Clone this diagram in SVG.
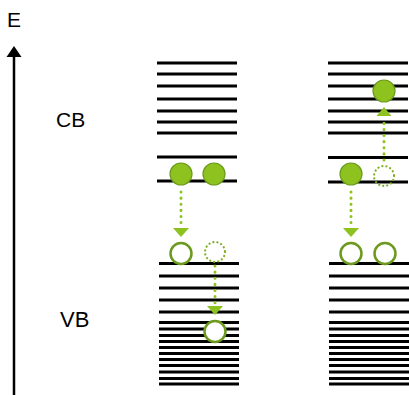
<svg xmlns="http://www.w3.org/2000/svg" width="409" height="395" viewBox="0 0 409 395">
  <defs>
    <style>
      .lvl { stroke: #000; stroke-width: 3; }
      .lbl { font-family: "Liberation Sans", Arial, sans-serif; fill: #000; }
      .e-full { fill: #8dc21f; stroke: #6c9a1e; stroke-width: 1.2; }
      .hole { fill: #fff; stroke: #6c9a1e; stroke-width: 2.5; }
      .hole-dot { fill: none; stroke: #7fae22; stroke-width: 2.2; stroke-dasharray: 0.1 4; stroke-linecap: round; }
      .jump { stroke: #8dc21f; stroke-width: 3; stroke-dasharray: 0.1 6; stroke-linecap: round; fill: none; }
      .tip { fill: #8dc21f; }
    </style>
  </defs>
  <rect width="409" height="395" fill="#fff"/>

  <!-- energy axis -->
  <g id="axis">
    <line x1="14" y1="395" x2="14" y2="55" stroke="#000" stroke-width="2.5"/>
    <polygon points="14,46 6.5,57 21.5,57" fill="#000"/>
    <text class="lbl" x="7" y="27" font-size="21">E</text>
  </g>
  <g id="label-cb"><text class="lbl" x="56" y="127" font-size="21">CB</text></g>
  <g id="label-vb"><text class="lbl" x="60" y="327" font-size="22">VB</text></g>

  <!-- left panel: band levels -->
  <g id="bands-left">
    <g class="lvl">
      <line x1="157" y1="63" x2="237" y2="63"/>
      <line x1="157" y1="74" x2="237" y2="74"/>
      <line x1="157" y1="86" x2="237" y2="86"/>
      <line x1="157" y1="99" x2="237" y2="99"/>
      <line x1="157" y1="111" x2="237" y2="111"/>
      <line x1="157" y1="122" x2="237" y2="122"/>
      <line x1="157" y1="133" x2="237" y2="133"/>
      <line x1="157" y1="157" x2="237" y2="157"/>
      <line x1="157" y1="181" x2="237" y2="181"/>
      <line x1="159" y1="263.5" x2="239" y2="263.5"/>
      <line x1="159" y1="276" x2="239" y2="276"/>
      <line x1="159" y1="288" x2="239" y2="288"/>
      <line x1="159" y1="300" x2="239" y2="300"/>
      <line x1="159" y1="312" x2="239" y2="312"/>
      <line x1="159" y1="322.5" x2="239" y2="322.5"/>
      <line x1="159" y1="329" x2="239" y2="329"/>
      <line x1="159" y1="335.5" x2="239" y2="335.5"/>
      <line x1="159" y1="341.5" x2="239" y2="341.5"/>
      <line x1="159" y1="347.5" x2="239" y2="347.5"/>
      <line x1="159" y1="353.5" x2="239" y2="353.5"/>
      <line x1="159" y1="359.5" x2="239" y2="359.5"/>
      <line x1="159" y1="365.5" x2="239" y2="365.5"/>
      <line x1="159" y1="372" x2="239" y2="372"/>
      <line x1="159" y1="378.5" x2="239" y2="378.5"/>
      <line x1="159" y1="384" x2="239" y2="384"/>
    </g>
  </g>

  <!-- right panel: band levels -->
  <g id="bands-right">
    <g class="lvl">
      <line x1="328" y1="63" x2="408" y2="63"/>
      <line x1="328" y1="74" x2="408" y2="74"/>
      <line x1="328" y1="86" x2="408" y2="86"/>
      <line x1="328" y1="99" x2="408" y2="99"/>
      <line x1="328" y1="111" x2="408" y2="111"/>
      <line x1="328" y1="122" x2="408" y2="122"/>
      <line x1="328" y1="133" x2="408" y2="133"/>
      <line x1="328" y1="157.5" x2="408" y2="157.5"/>
      <line x1="328" y1="182" x2="408" y2="182"/>
      <line x1="329" y1="263.5" x2="409" y2="263.5"/>
      <line x1="329" y1="276" x2="409" y2="276"/>
      <line x1="329" y1="288" x2="409" y2="288"/>
      <line x1="329" y1="300" x2="409" y2="300"/>
      <line x1="329" y1="312" x2="409" y2="312"/>
      <line x1="329" y1="322.5" x2="409" y2="322.5"/>
      <line x1="329" y1="329" x2="409" y2="329"/>
      <line x1="329" y1="335.5" x2="409" y2="335.5"/>
      <line x1="329" y1="341.5" x2="409" y2="341.5"/>
      <line x1="329" y1="347.5" x2="409" y2="347.5"/>
      <line x1="329" y1="353.5" x2="409" y2="353.5"/>
      <line x1="329" y1="359.5" x2="409" y2="359.5"/>
      <line x1="329" y1="365.5" x2="409" y2="365.5"/>
      <line x1="329" y1="372" x2="409" y2="372"/>
      <line x1="329" y1="378.5" x2="409" y2="378.5"/>
      <line x1="329" y1="384" x2="409" y2="384"/>
    </g>
  </g>

  <!-- transitions -->
  <g id="connectors">
    <line class="jump" x1="181" y1="192" x2="181" y2="225"/>
    <polygon class="tip" points="173,228 189,228 181,237"/>
    <line class="jump" x1="215" y1="266" x2="215" y2="303"/>
    <polygon class="tip" points="207,306 223,306 215,315"/>
    <line class="jump" x1="351" y1="192" x2="351" y2="225"/>
    <polygon class="tip" points="343,228 359,228 351,237"/>
    <line class="jump" x1="384" y1="160" x2="384" y2="119"/>
    <polygon class="tip" points="376.5,116 391.5,116 384,107"/>
  </g>

  <!-- carriers, left panel -->
  <g id="e-left-1"><circle class="e-full" cx="181" cy="174" r="11"/></g>
  <g id="e-left-2"><circle class="e-full" cx="214" cy="174" r="11"/></g>
  <g id="h-left-1"><circle class="hole" cx="181" cy="253.5" r="10.5"/></g>
  <g id="h-left-2"><circle class="hole-dot" cx="215" cy="252" r="10"/></g>
  <g id="h-left-3"><circle class="hole" cx="215" cy="331.5" r="10.5"/></g>

  <!-- carriers, right panel -->
  <g id="e-right-1"><circle class="e-full" cx="384" cy="91" r="11"/></g>
  <g id="e-right-2"><circle class="e-full" cx="351" cy="174" r="11"/></g>
  <g id="h-right-0"><circle class="hole-dot" cx="384" cy="176" r="10"/></g>
  <g id="h-right-1"><circle class="hole" cx="351" cy="253.5" r="10.5"/></g>
  <g id="h-right-2"><circle class="hole" cx="385" cy="253.5" r="10.5"/></g>
</svg>
